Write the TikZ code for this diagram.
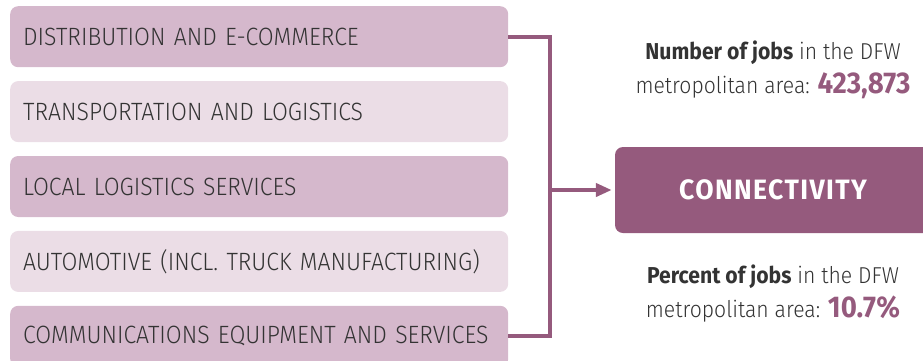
\documentclass[tikz,border=0pt]{standalone}
\usepackage{fontspec}
\setmainfont{Fira Sans Light}[BoldFont={Fira Sans Bold}, FakeStretch=0.92]
\newfontfamily\hubfont{Fira Sans Bold}[LetterSpace=5, FakeStretch=0.95]
\usepackage{tikz}
\usetikzlibrary{arrows.meta, positioning}
\definecolor{plum}{HTML}{955A7D}
\definecolor{sectordark}{HTML}{D5B8CC}
\definecolor{sectorlight}{HTML}{EBDDE6}
\definecolor{textgray}{HTML}{333333}
\newcommand{\jobfig}[1]{{\color{plum}\bfseries\fontsize{30}{34}\selectfont #1}}

\begin{document}
\begin{tikzpicture}[x=1pt,y=1pt,
  sector/.style={rectangle, rounded corners=8pt, minimum width=498pt,
  minimum height=61pt, inner xsep=13pt, text width=472pt, align=left,
  text=textgray, font=\fontsize{25}{28}\selectfont},
  darkbox/.style={sector, fill=sectordark},
  lightbox/.style={sector, fill=sectorlight},
  hub/.style={rectangle, rounded corners=8pt, fill=plum, text=white,
  minimum width=316pt, minimum height=86pt, font=\hubfont\fontsize{28}{30}\selectfont},
  stat/.style={align=center, text=textgray, font=\fontsize{23}{34}\selectfont},
  link/.style={draw=plum, line width=4pt}]
  \clip (0,0) rectangle (923,-360);
  \node[darkbox, anchor=north west] (dist) at (10,-6) {DISTRIBUTION AND E-COMMERCE};
  \node[lightbox] (trans) [below=13.5pt of dist] {TRANSPORTATION AND LOGISTICS};
  \node[darkbox] (local) [below=13.5pt of trans] {LOCAL LOGISTICS SERVICES};
  \node[lightbox] (auto) [below=13.5pt of local] {AUTOMOTIVE (INCL. TRUCK MANUFACTURING)};
  \node[darkbox] (comm) [below=13.5pt of auto] {COMMUNICATIONS EQUIPMENT AND SERVICES};
  \node[hub] (conn) at (773,-190) {CONNECTIVITY};
  \node[stat] (jobs) [above=44pt of conn]
    {\textbf{Number of jobs} in the DFW\\ metropolitan area: \jobfig{423,873}};
  \node[stat] (share) [below=28pt of conn]
    {\textbf{Percent of jobs} in the DFW\\ metropolitan area: \jobfig{10.7\%}};
  \coordinate[right=42pt of dist.east] (bus);

  % bracket joining the top and bottom sectors
  \draw[link] (dist.east) -- (bus) |- (comm.east);
  \draw[link, -{Triangle[length=16pt,width=13pt]}, shorten >=3pt]
    (bus |- conn.west) -- (conn.west);
\end{tikzpicture}
\end{document}
